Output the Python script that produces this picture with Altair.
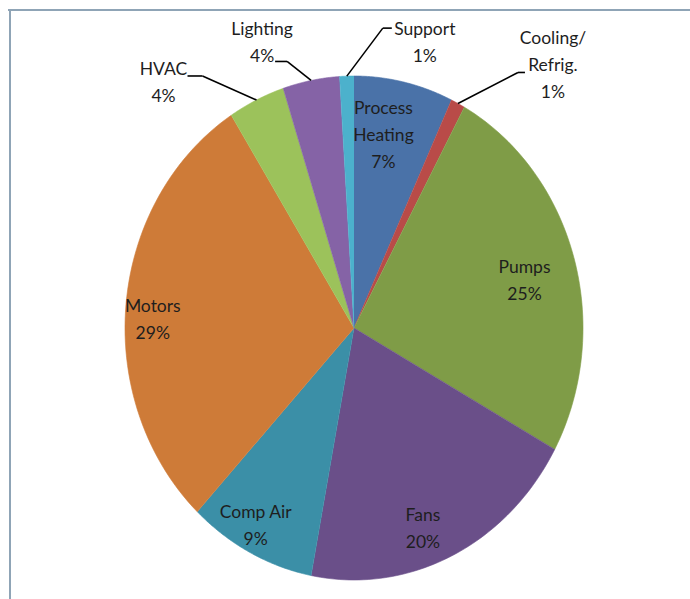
import altair as alt
import pandas as pd

# ---- data ----
categories = ["Process Heating", "Cooling/Refrig.", "Pumps", "Fans", "Comp Air",
              "Motors", "HVAC", "Lighting", "Support"]
label_text = ["Process\nHeating", "Cooling/\nRefrig.", "Pumps", "Fans", "Comp Air",
              "Motors", "HVAC", "Lighting", "Support"]
shares = [7, 1, 25, 20, 9, 29, 4, 4, 1]
colors = ["#4a72a8", "#b94b48", "#7f9c47", "#6a4f89", "#3b8fa7",
          "#ce7b38", "#9cc25b", "#8563a6", "#4cb1cc"]

df = pd.DataFrame({"category": categories, "name": label_text,
                   "share": shares, "idx": list(range(len(categories)))})

FONT = "Lato"
FS = 17.5
LH = 27
TXT = "#1e1e1e"

xs = alt.Scale(domain=[-1, 1], nice=False, zero=False)
ys = alt.Scale(domain=[-1, 1], nice=False, zero=False)
cscale = alt.Scale(domain=categories, range=colors)

base = (
    alt.Chart(df)
    .transform_window(cum="sum(share)", sort=[alt.SortField("idx")], frame=[None, 0])
    .transform_joinaggregate(total="sum(share)")
    .transform_calculate(
        a0="2*PI*(datum.cum - datum.share)/datum.total",
        a1="2*PI*datum.cum/datum.total",
    )
    .transform_calculate(mid="(datum.a0 + datum.a1)/2")
    .transform_calculate(ex="sin(datum.mid)", ey="cos(datum.mid)",
                         label="datum.name + '\\n' + datum.share + '%'")
    .transform_calculate(nlines="length(split(datum.label, '\\n'))")
)

# pie slices (elliptical, drawn as filled polygons)
pie = (
    base.transform_calculate(step="sequence(-1, 61)")
    .transform_flatten(["step"])
    .transform_calculate(
        ang="datum.a0 + (datum.a1 - datum.a0)*datum.step/60",
    )
    .transform_calculate(
        px="datum.step < 0 ? 0 : sin(datum.ang)",
        py="datum.step < 0 ? 0 : cos(datum.ang)",
    )
    .mark_line(filled=True, interpolate="linear", strokeWidth=0.6)
    .encode(
        x=alt.X("px:Q", scale=xs, axis=None),
        y=alt.Y("py:Q", scale=ys, axis=None),
        color=alt.Color("category:N", scale=cscale, legend=None),
        stroke=alt.Stroke("category:N", scale=cscale, legend=None),
        detail="category:N",
        order=alt.Order("step:Q"),
    )
)

# inside labels (text block centred on the label point)
inside = (
    base.transform_filter("datum.share >= 5")
    .transform_calculate(
        lx="0.83*datum.ex",
        ly=f"0.83*datum.ey + (datum.nlines - 1)*{LH / 2}/252",
    )
    .mark_text(font=FONT, fontSize=FS, lineHeight=LH, lineBreak="\n",
               align="center", baseline="middle", color=TXT, dx=-12, dy=12)
    .encode(x=alt.X("lx:Q", scale=xs, axis=None),
            y=alt.Y("ly:Q", scale=ys, axis=None),
            text="label:N")
)

layers = [pie, inside]

# callout labels for small slices (offsets in pixels; dy is to the first line)
callouts = {
    "HVAC": dict(dx=-93, dy=-30, elbow=(-54, -24), end=(-69, -24)),
    "Lighting": dict(dx=-49, dy=-50, elbow=(-24, -19), end=(-36, -19)),
    "Support": dict(dx=78, dy=-46, elbow=(36, -48), end=(45, -48)),
    "Cooling/Refrig.": dict(dx=95, dy=-64, elbow=(60, -31), end=(67, -31)),
}

for cat, c in callouts.items():
    sel = base.transform_filter(alt.datum.category == cat)
    enc = dict(x=alt.X("ex:Q", scale=xs, axis=None),
               y=alt.Y("ey:Q", scale=ys, axis=None))
    diag = sel.mark_rule(color="#000000", strokeWidth=1.6,
                         x2Offset=c["elbow"][0], y2Offset=c["elbow"][1]).encode(
        x2="ex:Q", y2="ey:Q", **enc)
    horiz = sel.mark_rule(color="#000000", strokeWidth=1.6,
                          xOffset=c["elbow"][0], yOffset=c["elbow"][1],
                          x2Offset=c["end"][0], y2Offset=c["end"][1]).encode(
        x2="ex:Q", y2="ey:Q", **enc)
    txt = sel.mark_text(font=FONT, fontSize=FS, lineHeight=LH, lineBreak="\n",
                        align="center", baseline="middle", color=TXT,
                        dx=c["dx"], dy=c["dy"]).encode(text="label:N", **enc)
    layers += [diag, horiz, txt]

# frame lines (top and left)
frame_df = pd.DataFrame({"k": [0]})
top_line = alt.Chart(frame_df).mark_rule(color="#8fa4b6", strokeWidth=2).encode(
    x=alt.value(-117), x2=alt.value(570), y=alt.value(-66))
left_line = alt.Chart(frame_df).mark_rule(color="#8fa4b6", strokeWidth=2).encode(
    x=alt.value(-115), y=alt.value(-66), y2=alt.value(530))
layers += [top_line, left_line]

chart = (
    alt.layer(*layers)
    .properties(width=458, height=504,
                padding={"left": 125, "top": 76, "right": 107, "bottom": 19},
                autosize=alt.AutoSizeParams(type="none"),
                background="white")
    .configure_view(stroke=None)
)

chart.save("out.html", embed_options={"renderer": "svg", "actions": False})
